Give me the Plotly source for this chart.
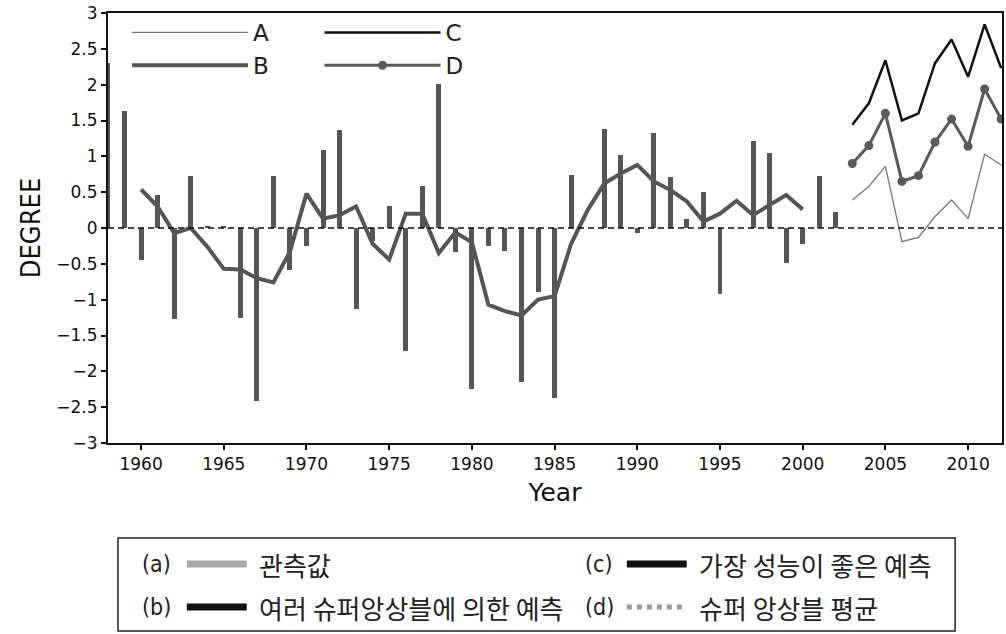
import plotly.graph_objects as go

# ---------------- data ----------------
obs_years = list(range(1958, 2003))
obs_values = [2.30, 1.63, -0.44, 0.46, -1.27, 0.73, 0.02, 0.03, -1.25, -2.41,
              0.73, -0.59, -0.25, 1.09, 1.37, -1.13, -0.18, 0.31, -1.72, 0.58,
              2.01, -0.33, -2.24, -0.25, -0.32, -2.15, -0.89, -2.37, 0.74, 0.0,
              1.38, 1.02, -0.07, 1.33, 0.71, 0.12, 0.50, -0.92, 0.0, 1.21,
              1.05, -0.49, -0.22, 0.73, 0.22]

smooth_years = list(range(1960, 2001))
smooth_values = [0.54, 0.30, -0.07, 0.00, -0.26, -0.57, -0.58, -0.70, -0.76, -0.33,
                 0.48, 0.13, 0.18, 0.30, -0.22, -0.44, 0.20, 0.20, -0.35, -0.06,
                 -0.20, -1.07, -1.16, -1.22, -1.00, -0.95, -0.22, 0.25, 0.62, 0.76,
                 0.88, 0.65, 0.53, 0.37, 0.09, 0.20, 0.38, 0.18, 0.32, 0.46,
                 0.26]

fc_years = list(range(2003, 2013))
series_a = [0.39, 0.58, 0.86, -0.19, -0.13, 0.16, 0.39, 0.13, 1.03, 0.88]
series_c = [1.44, 1.74, 2.34, 1.50, 1.60, 2.30, 2.63, 2.11, 2.84, 2.23]
series_d = [0.90, 1.15, 1.60, 0.65, 0.73, 1.20, 1.52, 1.14, 1.94, 1.52]

x_ticks = [1960, 1965, 1970, 1975, 1980, 1985, 1990, 1995, 2000, 2005, 2010]
y_ticks = [-3, -2.5, -2, -1.5, -1, -0.5, 0, 0.5, 1, 1.5, 2, 2.5, 3]

legend_rows = [
    [("(a)", "관측값", "a"), ("(c)", "가장 성능이 좋은 예측", "c")],
    [("(b)", "여러 슈퍼앙상블에 의한 예측", "b"), ("(d)", "슈퍼 앙상블 평균", "d")],
]

# ---------------- layout geometry ----------------
W, H = 1006, 634
ML, MR, MT, MB = 108, 2, 13, 191
PW, PH = W - ML - MR, H - MT - MB


def px(xs):
    return (xs - ML) / PW


def py(ys):
    return (H - MB - ys) / PH


TXT = "DejaVu Sans"
KR = "Noto Sans CJK KR"

fig = go.Figure()

fig.add_trace(go.Bar(x=obs_years, y=obs_values, width=0.3,
                     marker=dict(color="#555555", line=dict(width=0)),
                     showlegend=False, hoverinfo="x+y"))

fig.add_trace(go.Scatter(x=smooth_years, y=smooth_values, mode="lines", name="B",
                         line=dict(color="#555555", width=4),
                         legend="legend", legendrank=2))

fig.add_trace(go.Scatter(x=fc_years, y=series_a, mode="lines", name="A",
                         line=dict(color="#777777", width=1.3),
                         legend="legend", legendrank=1))

fig.add_trace(go.Scatter(x=fc_years, y=series_c, mode="lines", name="C",
                         line=dict(color="#111111", width=2.5),
                         legend="legend2", legendrank=1))

fig.add_trace(go.Scatter(x=fc_years, y=series_d, mode="lines+markers", name="D",
                         line=dict(color="#5a5a5a", width=3),
                         marker=dict(size=9, color="#5a5a5a"),
                         legend="legend2", legendrank=2))

fig.add_hline(y=0, line=dict(color="#111111", width=1.6, dash="6px,4px"))

legend_common = dict(orientation="v", bgcolor="rgba(0,0,0,0)", borderwidth=0,
                     font=dict(family=TXT, size=23, color="#222222"),
                     itemwidth=116, tracegroupgap=0,
                     xanchor="left", yanchor="top")

fig.update_layout(
    width=W, height=H,
    margin=dict(l=ML, r=MR, t=MT, b=MB),
    paper_bgcolor="white", plot_bgcolor="white",
    bargap=0,
    showlegend=True,
    legend=dict(x=px(127), y=py(11), **legend_common),
    legend2=dict(x=px(320), y=py(11), **legend_common),
    xaxis=dict(range=[1958.0, 2012.05], tickmode="array", tickvals=x_ticks,
               ticks="outside", ticklen=5, tickwidth=1.5, tickcolor="#111",
               showline=True, linecolor="#111", linewidth=2, mirror=True,
               showgrid=False, zeroline=False, ticklabeloverflow="allow",
               tickfont=dict(family=TXT, size=17, color="#111"),
               title=dict(text="Year", font=dict(family=TXT, size=25, color="#111"),
                          standoff=10)),
    yaxis=dict(range=[-3, 3], tickmode="array", tickvals=y_ticks,
               ticks="outside", ticklen=5, tickwidth=1.5, tickcolor="#111",
               showline=True, linecolor="#111", linewidth=2, mirror=True,
               showgrid=False, zeroline=False, ticklabeloverflow="allow",
               tickfont=dict(family=TXT, size=17, color="#111"),
               title=dict(text="DEGREE",
                          font=dict(family="DejaVu Sans Condensed, DejaVu Sans",
                                    size=27, color="#111"),
                          standoff=8)),
)

# ---------------- bottom explanatory box ----------------
fig.add_shape(type="rect", xref="paper", yref="paper",
              x0=px(118), x1=px(957), y0=py(538), y1=py(631),
              line=dict(color="#222", width=1.5), fillcolor="rgba(0,0,0,0)")

row_y = [564, 607]
col_x = [(140, 187, 247, 257), (584, 628, 688, 698)]
for r, row in enumerate(legend_rows):
    for c, (tag, label, kind) in enumerate(row):
        x_tag, s0, s1, x_lab = col_x[c]
        yy = row_y[r]
        fig.add_annotation(xref="paper", yref="paper", x=px(x_tag), y=py(yy),
                           xanchor="left", yanchor="middle", showarrow=False,
                           text=tag, font=dict(family="DejaVu Sans Condensed, " + KR, size=23, color="#222"))
        fig.add_annotation(xref="paper", yref="paper", x=px(x_lab), y=py(yy),
                           xanchor="left", yanchor="middle", showarrow=False,
                           text=label, font=dict(family=KR, size=26, color="#222"))
        if kind == "d":
            fig.add_shape(type="line", xref="paper", yref="paper",
                          x0=px(s0), x1=px(s1), y0=py(yy), y1=py(yy),
                          line=dict(color="#999999", width=5, dash="dot"))
        else:
            col = "#aaaaaa" if kind == "a" else "#111111"
            fig.add_shape(type="rect", xref="paper", yref="paper",
                          x0=px(s0), x1=px(s1), y0=py(yy - 3.5), y1=py(yy + 3.5),
                          line=dict(width=0), fillcolor=col)

fig.write_html("out.html", config={"displayModeBar": False},
               post_script="document.body.style.margin='0';document.body.style.overflow='hidden';")
